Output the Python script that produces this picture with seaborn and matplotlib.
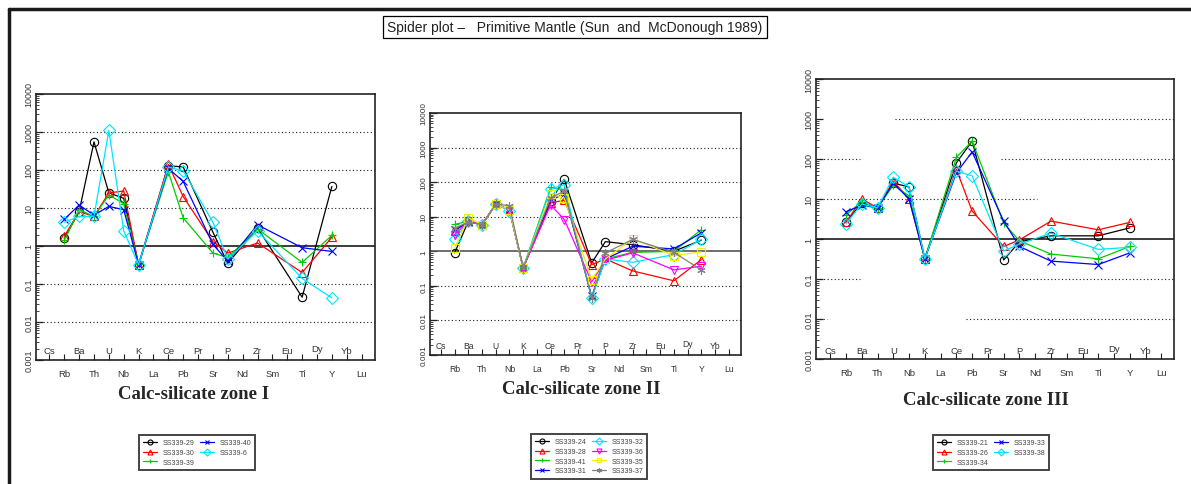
import pandas as pd
import matplotlib
matplotlib.use("Agg")
import matplotlib.pyplot as plt
import matplotlib.transforms as mtransforms
from matplotlib.lines import Line2D
from matplotlib.ticker import FixedLocator, LogLocator, NullFormatter
import seaborn as sns

# ---- element order on the spider diagram -------------------------------
elements = ['Cs', 'Rb', 'Ba', 'Th', 'U', 'Nb', 'K', 'La', 'Ce', 'Pb', 'Pr',
            'Sr', 'P', 'Nd', 'Zr', 'Sm', 'Eu', 'Ti', 'Dy', 'Y', 'Yb', 'Lu']
analysed = ['Rb', 'Ba', 'Th', 'U', 'Nb', 'K', 'Ce', 'Pb', 'Sr', 'P', 'Zr', 'Ti', 'Y']

y_ticks = [0.001, 0.01, 0.1, 1, 10, 100, 1000, 10000]
y_tick_labels = ['0.001', '0.01', '0.1', '1', '10', '100', '1000', '10000']

# ---- primitive-mantle normalised concentrations -------------------------
# zone I
ss339_29 = [1.6, 8.0, 550, 25, 18, 0.32, 130, 120, 2.3, 0.35, 3.0, 0.045, 37]
ss339_30 = [1.8, 8.0, 6.0, 25, 28, 0.32, 140, 20, 1.3, 0.65, 1.2, 0.20, 1.7]
ss339_39 = [1.4, 9.0, 6.0, 22, 13, 0.33, 90, 5.5, 0.65, 0.50, 2.8, 0.37, 1.9]
ss339_40 = [5.0, 12, 6.5, 11, 9.0, 0.32, 110, 50, 1.1, 0.40, 3.6, 0.90, 0.72]
ss339_6 = [4.2, 6.0, 6.0, 1100, 2.5, 0.32, 120, 95, 4.2, 0.45, 2.5, 0.14, 0.043]

# zone II
ss339_24 = [0.9, 7.4, 5.9, 23, 16, 0.33, 28, 120, 0.46, 1.9, 1.55, 1.0, 2.1]
ss339_28 = [3.8, 7.4, 5.9, 23, 16, 0.33, 25, 30, 0.41, 0.6, 0.27, 0.14, 0.57]
ss339_41 = [6.0, 7.4, 5.9, 23, 15, 0.33, 70, 60, 0.045, 0.6, 0.93, 1.0, 4.2]
ss339_31 = [4.2, 7.0, 5.9, 23, 16, 0.33, 30, 46, 0.05, 0.6, 1.4, 1.17, 3.4]
ss339_32 = [2.2, 7.4, 5.9, 23, 15, 0.33, 62, 85, 0.045, 0.6, 0.48, 0.8, 2.2]
ss339_36 = [3.0, 7.4, 5.9, 23, 16, 0.33, 22, 8.3, 0.13, 0.55, 0.9, 0.29, 0.37]
ss339_35 = [1.25, 9.3, 5.9, 23, 16, 0.33, 46, 35, 0.15, 0.6, 2.3, 0.75, 0.96]
ss339_37 = [4.7, 7.0, 5.9, 23, 21, 0.33, 35, 55, 0.045, 0.9, 2.2, 0.93, 0.29]

# zone III
ss339_21 = [2.6, 8.0, 6.0, 25, 20, 0.32, 80, 280, 0.30, 0.85, 1.2, 1.2, 1.9]
ss339_26 = [2.6, 10, 6.0, 28, 10, 0.32, 55, 5.0, 0.65, 0.95, 2.8, 1.7, 2.6]
ss339_34 = [4.0, 8.5, 6.0, 22, 12, 0.32, 110, 280, 2.5, 0.90, 0.42, 0.32, 0.65]
ss339_33 = [4.8, 7.0, 6.0, 25, 10, 0.32, 45, 150, 2.8, 0.65, 0.28, 0.23, 0.45]
ss339_38 = [2.4, 7.5, 6.0, 35, 20, 0.32, 50, 38, 0.50, 0.75, 1.4, 0.55, 0.62]

zone1 = [('SS339-29', ss339_29), ('SS339-30', ss339_30), ('SS339-39', ss339_39),
         ('SS339-40', ss339_40), ('SS339-6', ss339_6)]
zone2 = [('SS339-24', ss339_24), ('SS339-28', ss339_28), ('SS339-41', ss339_41),
         ('SS339-31', ss339_31), ('SS339-32', ss339_32), ('SS339-36', ss339_36),
         ('SS339-35', ss339_35), ('SS339-37', ss339_37)]
zone3 = [('SS339-21', ss339_21), ('SS339-26', ss339_26), ('SS339-34', ss339_34),
         ('SS339-33', ss339_33), ('SS339-38', ss339_38)]

# series styling, in plotting order
styles = [('#000000', 'o'), ('#ff0000', '^'), ('#00cc00', '+'), ('#0000ff', 'x'),
          ('#00e5ff', 'D'), ('#ff00ff', 'v'), ('#f0f000', 's'), ('#808080', (6, 2, 0))]

sns.set_theme(style="white")
plt.rcParams['font.family'] = ['Liberation Sans', 'DejaVu Sans']

W, H = 1191, 485
fig = plt.figure(figsize=(W / 100, H / 100), dpi=100)


def px_axes(left, top, right, bottom):
    return fig.add_axes([left / W, 1 - bottom / H, (right - left) / W, (bottom - top) / H])


def draw_panel(ax, samples, xlim, grid_spans, unity_color, title, title_xy,
               legend_xy, fs, box_h):
    pos = [elements.index(e) for e in analysed]
    handles = []
    for (name, vals), (color, marker) in zip(samples, styles):
        df = pd.DataFrame({'pos': pos, 'value': vals})
        sns.lineplot(data=df, x='pos', y='value', ax=ax, color=color, marker=marker,
                     sort=False, estimator=None, lw=0.9, ms=6, mfc='none',
                     mec=color, mew=0.8, legend=False)
        line = ax.lines[-1]
        line.set_label(name)
        handles.append(line)

    ax.set_yscale('log')
    ax.set_ylim(0.001, 10000)
    ax.set_xlim(*xlim)
    ax.set_xlabel('')
    ax.set_ylabel('')

    # reference line at primitive-mantle composition
    ax.axhline(1, color=unity_color, lw=1.2, zorder=1)
    for yv, spans in grid_spans:
        for x0, x1 in spans:
            ax.axhline(yv, x0, x1, color='k', lw=0.8, ls=(0, (1, 2.2)), zorder=0)

    # y axis
    ax.yaxis.set_major_locator(FixedLocator(y_ticks))
    ax.set_yticklabels(y_tick_labels, rotation=90, va='center', fontsize=fs - 0.3,
                       color='#333333')
    ax.yaxis.set_minor_locator(LogLocator(base=10, subs=range(2, 10), numticks=20))
    ax.yaxis.set_minor_formatter(NullFormatter())
    ax.tick_params(axis='y', which='major', direction='in', length=5, width=0.9,
                   left=True, pad=2, colors='#222222', labelcolor='#333333')
    ax.tick_params(axis='y', which='minor', direction='in', length=2.5, width=0.6,
                   left=True)

    # x axis: alternating rows of element labels
    ax.set_xticks(range(len(elements)))
    ax.set_xticklabels([e if i % 2 == 1 else '' for i, e in enumerate(elements)],
                       fontsize=fs, color='#333333')
    ax.tick_params(axis='x', direction='in', length=4, width=0.8, bottom=True,
                   pad=6.5, colors='#222222', labelcolor='#333333')
    trans = mtransforms.blended_transform_factory(ax.transData, ax.transAxes)
    for i, e in enumerate(elements):
        if i % 2 == 0:
            dy = 11 if e == 'Dy' else 9
            ax.text(i, dy / box_h, e, transform=trans, ha='center', va='center',
                    fontsize=fs, color='#333333')

    for sp in ax.spines.values():
        sp.set_visible(True)
        sp.set_color('#222222')
        sp.set_linewidth(1.2)

    fig.text(title_xy[0] / W, 1 - title_xy[1] / H, title, ha='center', va='center',
             fontsize=13.5, fontweight='bold', family=['Liberation Serif', 'DejaVu Serif'])

    leg = ax.legend(handles=handles, loc='upper left',
                    bbox_to_anchor=(legend_xy[0] / W, 1 - legend_xy[1] / H),
                    bbox_transform=fig.transFigure, ncol=2, fontsize=5,
                    frameon=True, fancybox=False, edgecolor='#444444', framealpha=1,
                    handlelength=2.0, handletextpad=0.8, columnspacing=0.8,
                    labelspacing=0.4, borderpad=0.6, borderaxespad=0,
                    markerscale=0.6)
    leg.get_frame().set_linewidth(1.4)
    for t in leg.get_texts():
        t.set_color('#444444')


ax1 = px_axes(36, 95, 375, 361)
draw_panel(ax1, zone1, (-0.9, 21.9),
           [(yv, [(0, 1)]) for yv in [0.01, 0.1, 10, 100, 1000]],
           'k', 'Calc-silicate zone I', (194, 395), (139, 436), 6.8, 266)

ax2 = px_axes(430, 114, 741, 356)
draw_panel(ax2, zone2, (-0.8, 21.9),
           [(yv, [(0, 1)]) for yv in [0.01, 0.1, 10, 100, 1000]],
           '#555555', 'Calc-silicate zone II', (581, 389), (531, 435), 6.2, 242)

ax3 = px_axes(816, 80, 1174, 360)
draw_panel(ax3, zone3, (-0.9, 21.8),
           [(1000, [(0.22, 1)]),
            (100, [(0.01, 0.123), (0.518, 1)]),
            (10, [(0, 0.616)]),
            (0.1, [(0.01, 0.123), (0.518, 1)]),
            (0.01, [(0, 0.03), (0.42, 1)])],
           'k', 'Calc-silicate zone III', (986, 401), (933, 436), 6.8, 280)

# heading box
fig.text(575 / W, 1 - 28 / H,
         'Spider plot \u2013   Primitive Mantle (Sun  and  McDonough 1989)',
         ha='center', va='center', fontsize=10, color='#222222',
         bbox=dict(boxstyle='square,pad=0.3', fc='white', ec='black', lw=0.9))

# page frame
fig.add_artist(Line2D([9 / W, 9 / W], [0, 1 - 10 / H], transform=fig.transFigure,
                      color='k', lw=2.5))
fig.add_artist(Line2D([9 / W, 1], [1 - 10 / H, 1 - 10 / H], transform=fig.transFigure,
                      color='k', lw=2.5))

fig.savefig('out.png', dpi=100)
